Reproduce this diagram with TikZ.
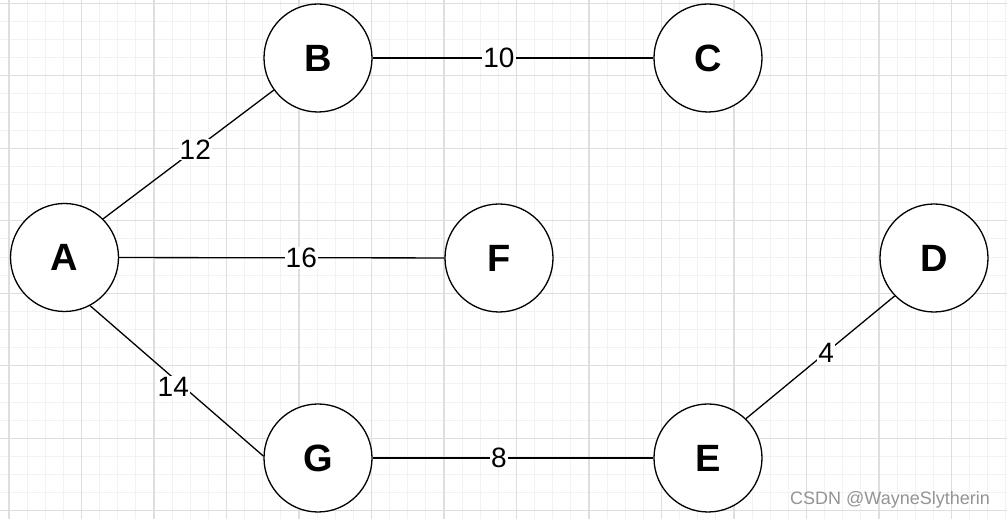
\documentclass[tikz,border=0pt]{standalone}
\usepackage{fontspec}
\setmainfont{Liberation Sans}
\usepackage{tikz}

\definecolor{gridminor}{RGB}{242,242,242}
\definecolor{gridmajor}{RGB}{222,222,222}
\tikzset{
  vertex/.style={circle,draw,fill=white,line width=1.3pt,minimum size=108pt,inner sep=0pt,font=\fontsize{38}{42}\selectfont\bfseries},
  weight/.style={fill=white,inner sep=1pt,font=\fontsize{28}{32}\selectfont},
  edge/.style={line width=1.3pt}
}

\begin{document}
\begin{tikzpicture}[x=1pt,y=1pt]
        \pgfmathsetmacro\w{1007}
        \pgfmathsetmacro\h{519}
        \pgfmathsetmacro\g{18.125}
        \useasboundingbox (0,0) rectangle (\w,\h);
        \fill[white] (0,0) rectangle (\w,\h);
        % grid
        \foreach \i in {0,...,55} {
            \pgfmathsetmacro\gx{9+\i*\g}
            \draw[gridminor,line width=1pt] (\gx,0) -- (\gx,\h);
        }
        \foreach \i in {0,...,28} {
            \pgfmathsetmacro\gy{515.7-\i*\g}
            \draw[gridminor,line width=1pt] (0,\gy) -- (\w,\gy);
        }
        \foreach \i in {0,...,13} {
            \pgfmathsetmacro\gx{9+\i*4*\g}
            \draw[gridmajor,line width=1.2pt] (\gx,0) -- (\gx,\h);
        }
        \foreach \i in {0,...,7} {
            \pgfmathsetmacro\gy{515.7-\i*4*\g}
            \draw[gridmajor,line width=1.2pt] (0,\gy) -- (\w,\gy);
        }
        % vertices
        \node[vertex] (A) at (64.5,261.5) {A};
        \node[vertex] (B) at (318,461) {B};
        \node[vertex] (C) at (708,461) {C};
        \node[vertex] (F) at (499,261) {F};
        \node[vertex] (D) at (934,261) {D};
        \node[vertex] (G) at (318,61) {G};
        \node[vertex] (E) at (708,61) {E};
        % edges
        \draw[edge] (A.45) -- (B.216.6) node[weight,pos=0.54] {12};
        \draw[edge] (B) -- (C) node[weight,pos=0.45] {10};
        \draw[edge] (A) -- (F) node[weight,pos=0.56] {16};
        \draw[edge] (A.-62.6) -- (G.178.6) node[weight,pos=0.48,yshift=-9pt] {14};
        \draw[edge] (G) -- (E) node[weight,pos=0.45] {8};
        \draw[edge] (E.46.9) -- (D.224.8) node[weight,pos=0.54] {4};
        \node[text=black!42,font=\fontsize{18}{20}\selectfont] (mark) at (890,19) {CSDN @WayneSlytherin};
\end{tikzpicture}
\end{document}
